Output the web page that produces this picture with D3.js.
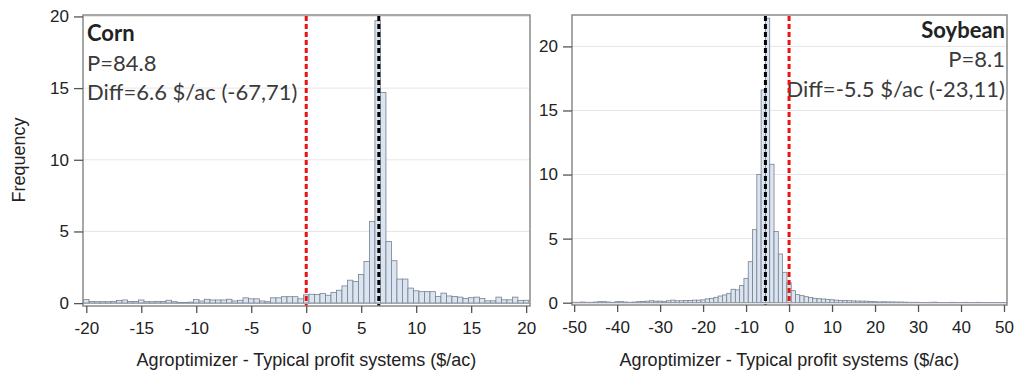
<!DOCTYPE html>
<html>
<head>
<meta charset="utf-8">
<script src="https://cdn.jsdelivr.net/npm/d3@7"></script>
<style>
body { margin: 0; background: #fff; }
svg { display: block; }
.tick text { font-family: "Liberation Sans", Arial, sans-serif; font-size: 17px; fill: #222; }
.axis-title { font-family: "Liberation Sans", Arial, sans-serif; font-size: 18px; fill: #222; }
.note { font-family: Lato, "Open Sans", sans-serif; fill: #333; }
</style>
</head>
<body>
<svg id="chart" width="1026" height="372"></svg>
<script>
// corn: bins of 0.5 $/ac centred on -20 .. 20
const cornFreq = [
  0.25, 0.12, 0.1, 0.1, 0.1, 0.12, 0.18, 0.22, 0.12, 0.12,
  0.22, 0.1, 0.1, 0.12, 0.12, 0.2, 0.1, 0.05, 0.05, 0.07,
  0.25, 0.15, 0.27, 0.22, 0.22, 0.22, 0.27, 0.15, 0.2, 0.37,
  0.3, 0.3, 0.15, 0.1, 0.37, 0.37, 0.45, 0.45, 0.45, 0.3,
  0.58, 0.62, 0.6, 0.68, 0.55, 0.75, 0.9, 1.2, 1.6, 1.5,
  2.0, 2.9, 5.7, 19.7, 14.7, 4.3, 2.96, 1.68, 1.68, 1.05,
  0.86, 0.8, 0.8, 0.8, 0.47, 0.7, 0.5, 0.47, 0.42, 0.33,
  0.38, 0.42, 0.33, 0.16, 0.16, 0.42, 0.23, 0.23, 0.42, 0.19,
  0.2
];
// soybean: bins of 1 $/ac centred on -50 .. 50
const soyFreq = [
  0.03, 0.03, 0.05, 0.03, 0.03, 0.05, 0.08, 0.08, 0.05, 0.03,
  0.08, 0.08, 0.05, 0.03, 0.05, 0.08, 0.1, 0.12, 0.15, 0.12,
  0.12, 0.1, 0.15, 0.2, 0.15, 0.15, 0.18, 0.18, 0.2, 0.2,
  0.22, 0.3, 0.34, 0.42, 0.52, 0.6, 0.73, 1.05, 1.0, 1.35,
  1.9, 3.2, 5.7, 10.0, 16.6, 22.2, 10.8, 5.55, 3.8, 2.37,
  1.56, 0.94, 0.63, 0.55, 0.47, 0.4, 0.34, 0.31, 0.29, 0.26,
  0.23, 0.2, 0.18, 0.17, 0.15, 0.14, 0.13, 0.12, 0.12, 0.1,
  0.08, 0.06, 0.07, 0.06, 0.06, 0.05, 0.05, 0.04, 0.03, 0.03,
  0.03, 0.02, 0.02, 0.03, 0.04, 0.02, 0.02, 0.02, 0.03, 0.02,
  0.02, 0.03, 0.02, 0.02, 0.03, 0.02, 0.02, 0.02, 0.02, 0.02,
  0.02
];
const cornXTicks = [-20, -15, -10, -5, 0, 5, 10, 15, 20];
const soyXTicks = [-50, -40, -30, -20, -10, 0, 10, 20, 30, 40, 50];
const cornYTicks = [0, 5, 10, 15, 20];
const soyYTicks = [0, 5, 10, 15, 20];
const cornNotes = ["Corn", "P=84.8", "Diff=6.6 $/ac (-67,71)"];
const soyNotes = ["Soybean", "P=8.1", "Diff=-5.5 $/ac (-23,11)"];
const cornLines = { zero: 0, diff: 6.6 };
const soyLines = { zero: 0, diff: -5.5 };
const xTitle = "Agroptimizer - Typical profit systems ($/ac)";

const svg = d3.select("#chart");
// plain hyphen for negatives, like the original
const fmt = function(d) { return String(d); };

function panel(opt) {
  var g = svg.append("g");
  var x = d3.scaleLinear().domain(opt.xDomain).range([opt.left, opt.right]);
  var y = d3.scaleLinear().domain(opt.yDomain).range([opt.bottom, opt.top]);
  var centers = d3.range(opt.freq.length).map(function(i) { return opt.first + i * opt.bin; });

  // light grid lines
  g.selectAll(".grid").data(opt.yTicks.filter(function(d) { return d > 0; }))
    .enter().append("line")
    .attr("x1", opt.left).attr("x2", opt.right)
    .attr("y1", function(d) { return y(d); }).attr("y2", function(d) { return y(d); })
    .style("stroke", "#e6e6e6").style("stroke-width", 1);

  g.selectAll(".bar").data(opt.freq)
    .enter().append("rect")
    .attr("x", function(d, i) { return x(centers[i] - opt.bin / 2); })
    .attr("width", x(opt.bin) - x(0))
    .attr("y", function(d) { return y(d); })
    .attr("height", function(d) { return y(0) - y(d); })
    .style("fill", "#dbe5f1").style("stroke", "#77808e").style("stroke-width", 0.8);

  // baseline
  g.append("line").attr("x1", opt.left).attr("x2", opt.right)
    .attr("y1", y(0)).attr("y2", y(0))
    .style("stroke", "#9aa0a8").style("stroke-width", 1);

  // notes
  var t = g.append("text").attr("class", "note")
    .attr("text-anchor", opt.anchor);
  opt.notes.forEach(function(s, i) {
    t.append("tspan").attr("x", opt.noteX).attr("y", opt.noteY[i])
      .style("font-size", "22px")
      .style("font-weight", i == 0 ? "bold" : "normal")
      .style("fill", i == 0 ? "#222" : "#3a3a3a")
      .text(s);
  });

  // reference lines
  g.append("line").attr("x1", x(opt.lines.zero)).attr("x2", x(opt.lines.zero))
    .attr("y1", opt.top + 1).attr("y2", opt.bottom)
    .style("stroke", "#ee1111").style("stroke-width", 3).style("stroke-dasharray", "5,3");
  g.append("line").attr("x1", x(opt.lines.diff)).attr("x2", x(opt.lines.diff))
    .attr("y1", opt.top + 1).attr("y2", opt.bottom)
    .style("stroke", "#000").style("stroke-width", 3).style("stroke-dasharray", "5,3");

  // frame
  g.append("rect").attr("x", opt.left).attr("y", opt.top)
    .attr("width", opt.right - opt.left).attr("height", opt.bottom - opt.top)
    .style("fill", "none").style("stroke", "#8a8a8a").style("stroke-width", 1.5);

  var xa = g.append("g").attr("transform", "translate(0," + opt.bottom + ")")
    .call(d3.axisBottom(x).tickValues(opt.xTicks).tickSize(7).tickPadding(9).tickFormat(fmt));
  xa.select(".domain").remove();
  xa.selectAll(".tick line").style("stroke", "#555").style("stroke-width", 1.3);

  var ya = g.append("g").attr("transform", "translate(" + opt.left + ",0)")
    .call(d3.axisLeft(y).tickValues(opt.yTicks).tickSize(9).tickPadding(5).tickFormat(fmt));
  ya.select(".domain").remove();
  ya.selectAll(".tick line").style("stroke", "#555").style("stroke-width", 1.3);

  g.append("text").attr("class", "axis-title")
    .attr("x", (opt.left + opt.right) / 2).attr("y", 366)
    .attr("text-anchor", "middle").text(xTitle);
  return g;
}

panel({
  freq: cornFreq, first: -20, bin: 0.5,
  xDomain: [-20.3, 20.35], yDomain: [-0.2, 20.1],
  left: 83, right: 530, top: 15, bottom: 306,
  xTicks: cornXTicks, yTicks: cornYTicks, lines: cornLines,
  notes: cornNotes, anchor: "start", noteX: 87, noteY: [41, 71, 100]
});

panel({
  freq: soyFreq, first: -50, bin: 1,
  xDomain: [-50.5, 50.7], yDomain: [-0.18, 22.45],
  left: 572, right: 1007, top: 15, bottom: 305,
  xTicks: soyXTicks, yTicks: soyYTicks, lines: soyLines,
  notes: soyNotes, anchor: "end", noteX: 1005, noteY: [38, 67, 97]
});

svg.append("text").attr("class", "axis-title")
  .attr("transform", "translate(25,160) rotate(-90)")
  .attr("text-anchor", "middle").text("Frequency");
</script>
</body>
</html>
